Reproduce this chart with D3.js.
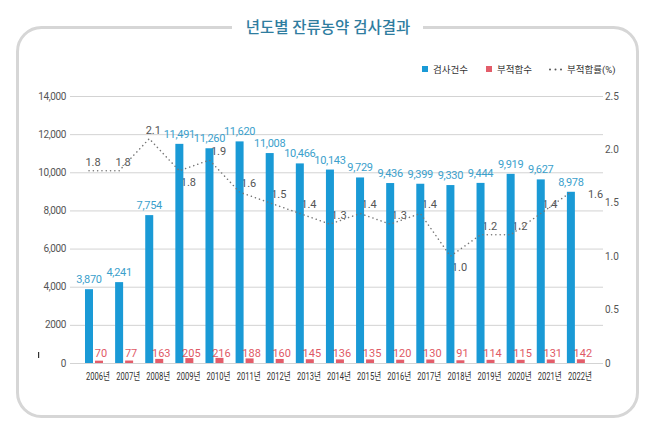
<!DOCTYPE html>
<html><head><meta charset="utf-8">
<script src="https://cdn.jsdelivr.net/npm/d3@7"></script>
<style>
html,body{margin:0;padding:0;background:#fff;}
text{font-family:Roboto,"Noto Sans CJK KR",sans-serif;}
</style></head>
<body>
<svg id="chart" width="658" height="433"></svg>
<script>
const title = "년도별 잔류농약 검사결과";
const years = ["2006년","2007년","2008년","2009년","2010년","2011년","2012년","2013년","2014년","2015년","2016년","2017년","2018년","2019년","2020년","2021년","2022년"];
const inspections = [3870,4241,7754,11491,11260,11620,11008,10466,10143,9729,9436,9399,9330,9444,9919,9627,8978];
const violations = [70,77,163,205,216,188,160,145,136,135,120,130,91,114,115,131,142];
const violationRate = [1.8,1.8,2.1,1.8,1.9,1.6,1.5,1.4,1.3,1.4,1.3,1.4,1.0,1.2,1.2,1.4,1.6];
const seriesNames = ["검사건수","부적합수","부적합률(%)"];
const leftTicks = [0,2000,4000,6000,8000,10000,12000,14000];
const leftTickLabels = ["0","2000","4,000","6,000","8,000","10,000","12,000","14,000"];
const rightTicks = [0,0.5,1.0,1.5,2.0,2.5];
const rightTickLabels = ["0","0.5","1.0","1.5","2.0","2.5"];

const svg = d3.select("#chart");
const BLUE = "#1a9ad6", RED = "#e35d6a", BLUE_TXT = "#3b9fcc", RED_TXT = "#df5a66";

// frame
svg.append("rect").attr("x",17.5).attr("y",27.5).attr("width",620).attr("height",389)
  .attr("rx",24).attr("fill","#fff").attr("stroke","#d6d6d6").attr("stroke-width",3);
svg.append("rect").attr("x",232).attr("y",20).attr("width",191).attr("height",16).attr("fill","#fff");
svg.append("text").attr("x",328).attr("y",33).attr("text-anchor","middle")
  .attr("font-size",15.5).attr("fill","#2f7d9f").attr("font-weight",500).text(title);

const plotL = 70, plotR = 603, plotT = 96, plotB = 363;
const x = d3.scaleBand().domain(years).range([83, 595]);
const xs = d3.scaleBand().domain(seriesNames.slice(0,2)).range([2, 20]).paddingInner(0.2);
const yL = d3.scaleLinear().domain([0,14000]).range([plotB, plotT]);
const yR = d3.scaleLinear().domain([0,2.5]).range([plotB, plotT]);

// grid
svg.append("g").selectAll("line").data(leftTicks).join("line")
  .attr("x1",plotL).attr("x2",plotR).attr("y1",d=>yL(d)+0.5).attr("y2",d=>yL(d)+0.5)
  .attr("stroke","#d3d3d3").attr("stroke-width",1);

// left axis labels
svg.append("g").selectAll("text").data(leftTicks).join("text")
  .attr("x",66).attr("y",d=>yL(d)+3.5).attr("text-anchor","end")
  .attr("font-size",10).attr("fill","#555").attr("letter-spacing","-0.4")
  .text((d,i)=>leftTickLabels[i]);
// right axis labels
svg.append("g").selectAll("text").data(rightTicks).join("text")
  .attr("x",605).attr("y",d=>yR(d)+3.5).attr("text-anchor","start")
  .attr("font-size",10).attr("fill","#555")
  .text((d,i)=>rightTickLabels[i]);

svg.append("rect").attr("x",38).attr("y",352).attr("width",1.2).attr("height",6).attr("fill","#333");

const yLabel = d=>d.replace(/\B(?=(\d{3})+(?!\d))/g, ",");

// line label (behind bars)
const lineX = i => x(years[i]) + xs(seriesNames[0]) + xs.bandwidth()/2;
const labelBelow = i => i>0 && i<violationRate.length-1 && (violationRate[i-1]-violationRate[i] >= 0.2) && violationRate[i+1] > violationRate[i];
svg.append("g").selectAll("text").data(violationRate).join("text")
  .attr("x",(d,i)=> x(years[i]) + x.bandwidth()/2 + (i===violationRate.length-1 ? 8 : (i<3 ? -5 : 0)))
  .attr("y",(d,i)=> labelBelow(i) ? yR(d)+15 : (i===violationRate.length-1 ? yR(d)+6 : yR(d)-5))
  .attr("text-anchor",(d,i)=> i===violationRate.length-1 ? "start":"middle")
  .attr("font-size",11).attr("fill","#555")
  .text(d=>d.toFixed(1));

// blue bars
svg.append("g").selectAll("rect").data(inspections).join("rect")
  .attr("x",(d,i)=>x(years[i])+xs(seriesNames[0])).attr("width",xs.bandwidth())
  .attr("y",d=>yL(d)).attr("height",d=>plotB-yL(d)).attr("fill",BLUE);
// red bars
svg.append("g").selectAll("rect").data(violations).join("rect")
  .attr("x",(d,i)=>x(years[i])+xs(seriesNames[1])).attr("width",xs.bandwidth())
  .attr("y",d=>yL(d)-1).attr("height",d=>plotB-yL(d)+1).attr("fill",RED);

// dotted line
const line = d3.line().x((d,i)=>lineX(i)).y(d=>yR(d));
svg.append("path").datum(violationRate).attr("d",line).attr("fill","none")
  .attr("stroke","#777").attr("stroke-width",1.5).attr("stroke-dasharray","0.1,4.2").attr("stroke-linecap","round");

// blue value labels
svg.append("g").selectAll("text").data(inspections).join("text")
  .attr("x",(d,i)=>x(years[i])+xs(seriesNames[0])+xs.bandwidth()/2)
  .attr("y",d=>yL(d)-6).attr("text-anchor","middle")
  .attr("font-size",11).attr("fill",BLUE_TXT).attr("letter-spacing","-0.3")
  .text(d=>yLabel(String(d)));
// red value labels
svg.append("g").selectAll("text").data(violations).join("text")
  .attr("x",(d,i)=>x(years[i])+xs(seriesNames[1])+xs.bandwidth()/2+2)
  .attr("y",357).attr("text-anchor","middle")
  .attr("font-size",11).attr("fill",RED_TXT)
  .text(d=>d);

// x labels
svg.append("g").selectAll("text").data(years).join("text")
  .attr("x",d=>x(d)+x.bandwidth()/2).attr("y",380).attr("text-anchor","middle")
  .attr("font-size",10).attr("fill","#333")
  .attr("textLength",24).attr("lengthAdjust","spacingAndGlyphs")
  .text(d=>d);

// legend
const lg = svg.append("g");
lg.append("rect").attr("x",422).attr("y",66).attr("width",6).attr("height",6).attr("fill",BLUE);
lg.append("text").attr("x",433).attr("y",73).attr("font-size",9.5).attr("fill","#333").text(seriesNames[0]);
lg.append("rect").attr("x",486).attr("y",66).attr("width",6).attr("height",6).attr("fill",RED);
lg.append("text").attr("x",497).attr("y",73).attr("font-size",9.5).attr("fill","#333").text(seriesNames[1]);
lg.selectAll("circle").data([550,555.5,561]).join("circle").attr("cx",d=>d).attr("cy",69.5).attr("r",1).attr("fill","#555");
lg.append("text").attr("x",567).attr("y",73).attr("font-size",9.5).attr("fill","#333").text(seriesNames[2]);
</script>
</body></html>
